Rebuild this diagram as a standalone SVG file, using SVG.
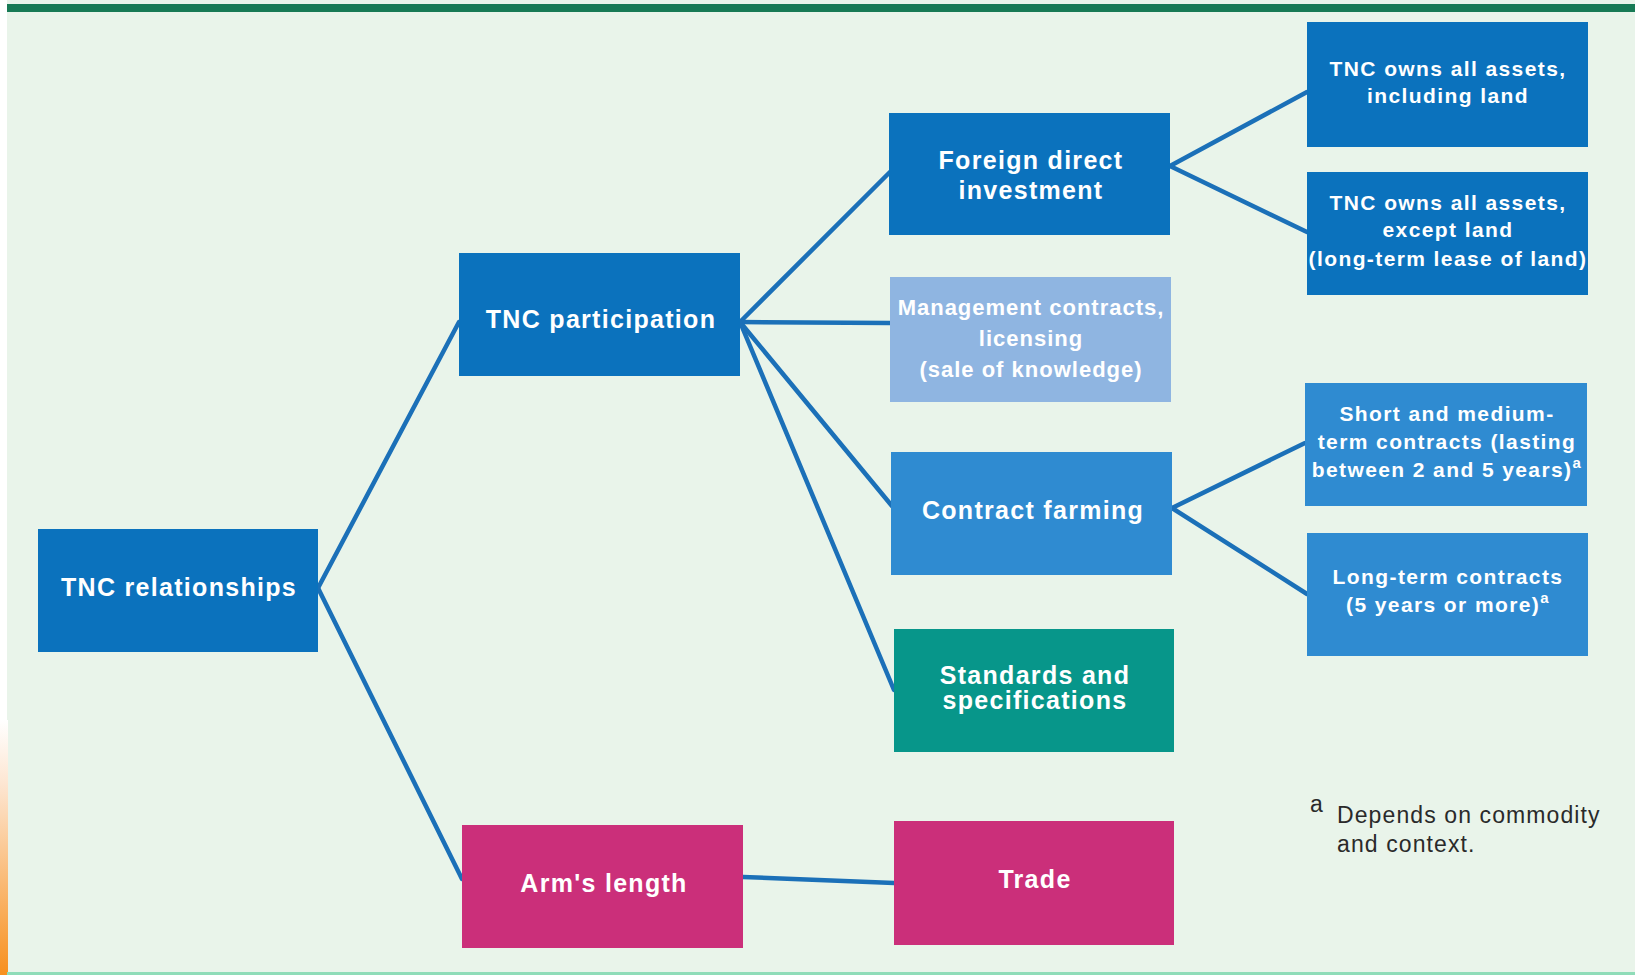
<svg xmlns="http://www.w3.org/2000/svg" width="1635" height="975" viewBox="0 0 1635 975">
<defs>
<linearGradient id="og" x1="0" y1="0" x2="0" y2="1">
<stop offset="0" stop-color="#ffffff"/>
<stop offset="0.25" stop-color="#fde6d2"/>
<stop offset="1" stop-color="#f7901e"/>
</linearGradient>
<style>
.t{font-family:"Liberation Sans",Arial,sans-serif;font-weight:bold;fill:#ffffff;text-anchor:middle}
.b{font-size:25px;letter-spacing:1.3px}
.s{font-size:21px;letter-spacing:1.4px}
.m{font-size:22px;letter-spacing:1px}
.c{stroke:#1b70b8;stroke-width:4.5;fill:none;stroke-linecap:round}
.fn{font-family:"Liberation Sans",Arial,sans-serif;fill:#2a2a2a;font-size:23px;letter-spacing:1.1px}
.dk{fill:#0b72bd}
.md{fill:#2f8bd1}
.lt{fill:#8fb5e1}
.tl{fill:#07968a}
.mg{fill:#cb2f7a}
</style>
</defs>
<rect x="0" y="0" width="1635" height="975" fill="#ffffff"/>
<rect x="7" y="0" width="1628" height="975" fill="#e9f4ea"/>
<rect x="0" y="720" width="8" height="255" fill="url(#og)"/>
<rect x="7" y="4" width="1628" height="8" fill="#177a55"/>
<rect x="7" y="972" width="1628" height="3" fill="#8fdcb8"/>

<g id="connectors">
<line class="c" x1="318" y1="588" x2="459" y2="322"/>
<line class="c" x1="318" y1="588" x2="462" y2="879"/>
<line class="c" x1="740" y1="322" x2="890" y2="172"/>
<line class="c" x1="740" y1="322" x2="890" y2="323"/>
<line class="c" x1="740" y1="322" x2="892" y2="506"/>
<line class="c" x1="740" y1="322" x2="894" y2="690"/>
<line class="c" x1="1170" y1="166" x2="1307" y2="92"/>
<line class="c" x1="1170" y1="166" x2="1307" y2="232"/>
<line class="c" x1="1172" y1="508" x2="1305" y2="443"/>
<line class="c" x1="1172" y1="508" x2="1307" y2="594"/>
<line class="c" x1="743" y1="877" x2="894" y2="883"/>
</g>

<g id="tnc-relationships">
<rect class="dk" x="38" y="529" width="280" height="123"/>
<text class="t b" x="179" y="596">TNC relationships</text>
</g>
<g id="tnc-participation">
<rect class="dk" x="459" y="253" width="281" height="123"/>
<text class="t b" x="601" y="328">TNC participation</text>
</g>
<g id="arms-length">
<rect class="mg" x="462" y="825" width="281" height="123"/>
<text class="t b" x="604" y="892">Arm's length</text>
</g>
<g id="fdi">
<rect class="dk" x="889" y="113" width="281" height="122"/>
<text class="t b" x="1031" y="169">Foreign direct</text>
<text class="t b" x="1031" y="199">investment</text>
</g>
<g id="management">
<rect class="lt" x="890" y="277" width="281" height="125"/>
<text class="t m" x="1031" y="315">Management contracts,</text>
<text class="t m" x="1031" y="346">licensing</text>
<text class="t m" x="1031" y="377">(sale of knowledge)</text>
</g>
<g id="contract-farming">
<rect class="md" x="891" y="452" width="281" height="123"/>
<text class="t b" x="1033" y="519">Contract farming</text>
</g>
<g id="standards">
<rect class="tl" x="894" y="629" width="280" height="123"/>
<text class="t b" x="1035" y="684">Standards and</text>
<text class="t b" x="1035" y="709">specifications</text>
</g>
<g id="trade">
<rect class="mg" x="894" y="821" width="280" height="124"/>
<text class="t b" x="1035" y="888">Trade</text>
</g>
<g id="owns-incl-land">
<rect class="dk" x="1307" y="22" width="281" height="125"/>
<text class="t s" x="1448" y="76">TNC owns all assets,</text>
<text class="t s" x="1448" y="103">including land</text>
</g>
<g id="owns-except-land">
<rect class="dk" x="1307" y="172" width="281" height="123"/>
<text class="t s" x="1448" y="210">TNC owns all assets,</text>
<text class="t s" x="1448" y="237">except land</text>
<text class="t s" x="1448" y="266" letter-spacing="1">(long-term lease of land)</text>
</g>
<g id="short-medium">
<rect class="md" x="1305" y="383" width="282" height="123"/>
<text class="t s" x="1447" y="421">Short and medium-</text>
<text class="t s" x="1447" y="449" letter-spacing="1">term contracts (lasting</text>
<text class="t s" x="1447" y="477" letter-spacing="1">between 2 and 5 years)<tspan font-size="15" dy="-9">a</tspan></text>
</g>
<g id="long-term">
<rect class="md" x="1307" y="533" width="281" height="123"/>
<text class="t s" x="1448" y="584" letter-spacing="1">Long-term contracts</text>
<text class="t s" x="1448" y="612" letter-spacing="1">(5 years or more)<tspan font-size="15" dy="-9">a</tspan></text>
</g>

<g id="footnote">
<text class="fn" x="1310" y="812" font-size="16" letter-spacing="0">a</text>
<text class="fn" x="1337" y="823">Depends on commodity</text>
<text class="fn" x="1337" y="852">and context.</text>
</g>
</svg>
